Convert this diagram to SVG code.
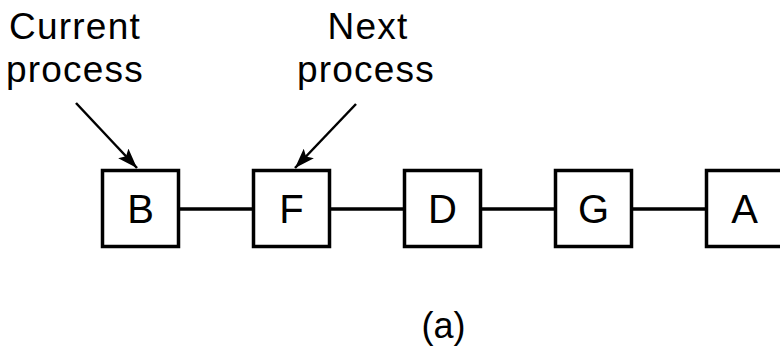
<svg xmlns="http://www.w3.org/2000/svg" width="780" height="351" viewBox="0 0 780 351">
  <style>
    .box { fill: #fff; stroke: #000; stroke-width: 3.5; }
    .lbl { font-family: "Liberation Sans", Arial, sans-serif; fill: #000; text-anchor: middle; }
    .node { font-size: 40px; }
    .cap { font-size: 37px; letter-spacing: 1.2px; }
    .tag { font-size: 36px; }
    .link { stroke: #000; stroke-width: 3.5; fill: none; }
    .ptr { stroke: #000; stroke-width: 2.5; fill: none; marker-end: url(#head); }
  </style>
  <defs>
    <marker id="head" markerUnits="userSpaceOnUse" markerWidth="20" markerHeight="14" viewBox="0 0 20 14" refX="20" refY="7" orient="auto">
      <path d="M0,0 L20,7 L0,14 L4,7 Z" fill="#000"/>
    </marker>
  </defs>

  <rect width="780" height="351" fill="#fff"/>

  <!-- links between list entries -->
  <g id="connectors">
    <line class="link" x1="178.5" y1="209" x2="253.5" y2="209"/>
    <line class="link" x1="329.5" y1="209" x2="404.5" y2="209"/>
    <line class="link" x1="480.5" y1="209" x2="555.5" y2="209"/>
    <line class="link" x1="631.5" y1="209" x2="706.5" y2="209"/>
    <line class="ptr" x1="76" y1="103" x2="137" y2="168"/>
    <line class="ptr" x1="356" y1="104" x2="295" y2="168"/>
  </g>

  <g id="label-current">
    <text class="lbl cap" x="75" y="39">Current</text>
    <text class="lbl cap" x="75" y="82">process</text>
  </g>
  <g id="label-next">
    <text class="lbl cap" x="368" y="39">Next</text>
    <text class="lbl cap" x="366" y="82">process</text>
  </g>

  <g id="node-B">
    <rect class="box" x="102.5" y="170.5" width="76" height="76"/>
    <text class="lbl node" x="140.5" y="223">B</text>
  </g>
  <g id="node-F">
    <rect class="box" x="253.5" y="170.5" width="76" height="76"/>
    <text class="lbl node" x="291.5" y="223">F</text>
  </g>
  <g id="node-D">
    <rect class="box" x="404.5" y="170.5" width="76" height="76"/>
    <text class="lbl node" x="442.5" y="223">D</text>
  </g>
  <g id="node-G">
    <rect class="box" x="555.5" y="170.5" width="76" height="76"/>
    <text class="lbl node" x="593.5" y="223">G</text>
  </g>
  <g id="node-A">
    <rect class="box" x="706.5" y="170.5" width="76" height="76"/>
    <text class="lbl node" x="744.5" y="223">A</text>
  </g>

  <text class="lbl tag" x="443.5" y="338">(a)</text>
</svg>
